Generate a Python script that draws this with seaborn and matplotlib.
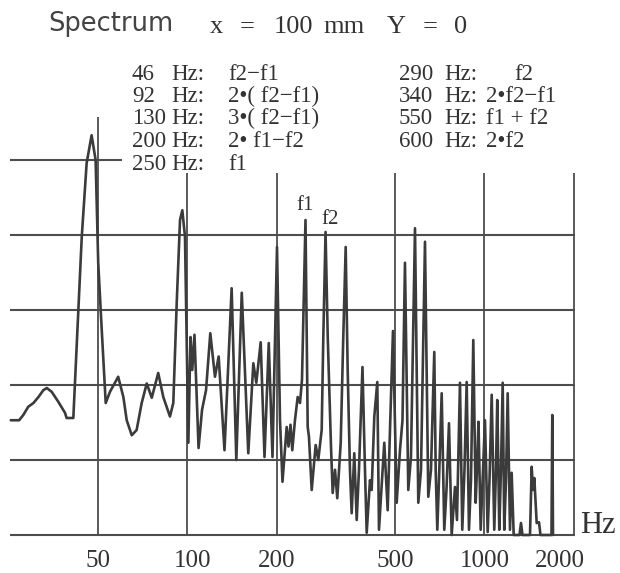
import numpy as np
import pandas as pd
import matplotlib
matplotlib.use("Agg")
import matplotlib.pyplot as plt
import seaborn as sns
from matplotlib.transforms import ScaledTranslation

# ---------------- data ----------------
freq_hz = [
    25.5, 27.2, 28.1, 29.2, 30.4, 31.6, 32.8, 33.7, 35.0, 36.8, 38.8, 39.3, 41.4,
    44.2, 45.9, 47.7, 49.2, 50.2, 51.6, 53.2, 55.0, 58.6, 61.0, 62.6, 65.1, 67.6,
    70.3, 73.1, 76.0, 79.9, 83.1, 87.5, 89.8, 92.2, 94.6, 96.3, 98.3, 99.6, 100.9,
    102.6, 104.0, 105.8, 109.2, 112.2, 115.7, 119.6, 124.0, 127.6, 133.5, 141.1,
    146.3, 152.6, 160.5, 166.9, 170.8, 176.7, 182.0, 188.1, 193.6, 200.5, 205.2,
    209.2, 216.1, 219.2, 222.6, 225.7, 230.4, 235.3, 239.6, 243.3, 250.0, 254.3,
    256.8, 262.3, 270.5, 276.0, 283.4, 287.0, 292.0, 297.0, 304.6, 308.6, 314.2,
    319.8, 328.4, 335.0, 341.3, 346.6, 352.8, 357.5, 364.8, 371.7, 378.3, 388.7,
    396.3, 401.6, 412.0, 417.4, 426.0, 436.0, 441.7, 460.2, 472.5, 481.0, 492.3,
    506.6, 519.7, 529.9, 540.2, 554.2, 565.9, 583.8, 598.9, 611.6, 630.8, 647.1,
    660.8, 677.9, 685.3, 693.9, 703.0, 717.9, 732.4, 745.0, 759.6, 775.6, 795.7,
    808.1, 827.1, 842.0, 856.5, 871.2, 886.9, 900.7, 917.0, 934.0, 943.5, 954.6,
    971.0, 988.4, 1003.8, 1025.1, 1039.6, 1057.5, 1078.8, 1093.1, 1104.2, 1121.4,
    1136.2, 1151.5, 1165.6, 1181.3, 1196.9, 1218.3, 1234.4, 1253.9, 1311.5,
    1326.7, 1342.3, 1422.7, 1441.5, 1456.2, 1471.0, 1498.4, 1525.5, 1543.1,
    1680.4, 1690.9, 1700.2,
]
amplitude = [
    1.53, 1.53, 1.60, 1.71, 1.76, 1.84, 1.93, 1.96, 1.91, 1.78, 1.63, 1.56, 1.56,
    3.98, 4.96, 5.33, 5.00, 3.63, 2.73, 1.76, 1.91, 2.11, 1.84, 1.53, 1.33, 1.40,
    1.76, 2.02, 1.83, 2.16, 1.84, 1.58, 1.76, 3.09, 4.20, 4.33, 3.98, 2.64, 1.23,
    2.64, 2.20, 2.67, 1.16, 1.67, 1.93, 2.69, 2.11, 2.38, 1.13, 3.29,
    1.00, 3.23, 1.09, 2.29, 2.03, 2.57, 1.04, 2.56, 1.04, 3.84, 1.53,
    0.71, 1.44, 1.18, 1.47, 1.13, 1.53, 1.84, 1.76, 2.07, 4.20, 1.44,
    1.31, 0.60, 1.20, 1.00, 1.40, 2.64, 4.04, 2.64, 1.18, 0.56, 0.87,
    0.49, 1.23, 2.64, 3.84, 2.20, 0.87, 0.29, 1.09, 0.20, 0.87, 2.24,
    0.87, 0.03, 0.73, 0.60, 1.58, 2.04, 0.07, 1.23, 0.33, 1.40, 2.72,
    0.43, 1.13, 1.53, 3.63, 0.60, 1.04, 4.09, 0.43, 0.87, 3.91, 0.51,
    0.87, 2.44, 0.87, 0.07, 0.73, 1.89, 0.07, 0.60, 1.49, 0.00, 0.64,
    0.20, 2.03, 0.07, 0.87, 2.04, 0.07, 0.73, 2.60, 0.43, 0.87, 1.51,
    0.07, 0.87, 1.53, 0.04, 0.73, 1.87, 0.07, 0.87, 1.80, 0.07,
    0.87, 2.03, 0.07, 0.73, 1.89, 0.07, 0.83, 0.00, 0.00,
    0.16, 0.00, 0.00, 0.91, 0.60, 0.76, 0.16, 0.17, 0.00,
    0.00, 1.60, 0.00,
]

tick_values = [50, 100, 200, 500, 1000, 2000]
tick_labels = ["50", "100", "200", "500", "1000", "2000"]
level_lines = [0, 1, 2, 3, 4]

legend_left_freqs = ["46", "92", "130", "200", "250"]
legend_left_terms = ["f2−f1", "2•( f2−f1)", "3•( f2−f1)", "2• f1−f2", "f1"]
legend_right_freqs = ["290", "340", "550", "600"]
legend_right_terms = ["f2", "2•f2−f1", "f1 + f2", "2•f2"]

# ---------------- figure ----------------
sns.set_theme(style="white")
plt.rcParams["font.family"] = ["DejaVu Sans"]
SERIF = ["Liberation Serif", "DejaVu Serif"]
INK = "#333333"
GRID = "#4d4d4d"

W, H = 620, 573
fig = plt.figure(figsize=(W / 100, H / 100), dpi=100)
fig.patch.set_facecolor("white")

YMAX = 5.6
ax = fig.add_axes([10 / W, 38 / H, 565 / W, (YMAX * 75) / H])
ax.set_xscale("log")
XMIN, XMAX = 25.35, 2016
ax.set_xlim(XMIN, XMAX)
ax.set_ylim(0, YMAX)
for s in ax.spines.values():
    s.set_visible(False)
ax.set_facecolor("white")

# frame lines
ax.hlines(level_lines, XMIN, XMAX, color=GRID, lw=1.5, zorder=1, clip_on=False)
ax.hlines([5], XMIN, 60.4, color=GRID, lw=1.5, zorder=1, clip_on=False)
ax.vlines([50], 0, 5.57, color=GRID, lw=1.3, zorder=1, clip_on=False)
ax.vlines(tick_values[1:], 0, 4.83, color=GRID, lw=1.3, zorder=1, clip_on=False)

df = pd.DataFrame({"freq": freq_hz, "amp": amplitude})
sns.lineplot(data=df, x="freq", y="amp", sort=False, estimator=None,
             color="#3b3b3b", lw=1.9, ax=ax, zorder=3)
for ln in ax.lines:
    ln.set_clip_on(False)
    ln.set_solid_joinstyle("round")

ax.set_xlabel("")
ax.set_ylabel("")
ax.set_yticks([])
ax.set_xticks(tick_values)
ax.set_xticklabels(tick_labels, fontsize=18, family=SERIF, color=INK)
ax.tick_params(axis="x", length=0, pad=11)
ax.minorticks_off()
shifts = {"100": 5, "2000": -14}
for lab in ax.get_xticklabels():
    dx = shifts.get(lab.get_text(), 0)
    if dx:
        lab.set_transform(lab.get_transform() + ScaledTranslation(dx / 100, 0, fig.dpi_scale_trans))


def px(x, y):
    return x / W, 1 - y / H


# title
fig.text(*px(48, 31), "Spectrum", fontsize=18.5, color="#444444", ha="left", va="baseline")
for xx, s in [(210, "x"), (240, "="), (274, "100"), (323, "mm"), (387, "Y"), (423, "="), (454, "0")]:
    fig.text(*px(xx, 33), s, fontsize=19, family=SERIF, color=INK, ha="left", va="baseline")

# legend of frequency components
row_base = [79.5, 102, 124.5, 147, 169.5]
for i, (fq, term) in enumerate(zip(legend_left_freqs, legend_left_terms)):
    yb = row_base[i]
    fig.text(*px(132, yb), fq, fontsize=16.5, family=SERIF, color=INK, ha="left", va="baseline")
    fig.text(*px(204, yb), "Hz:", fontsize=16.5, family=SERIF, color=INK, ha="right", va="baseline")
    fig.text(*px(228, yb), term, fontsize=16.5, family=SERIF, color=INK, ha="left", va="baseline")
for i, (fq, term) in enumerate(zip(legend_right_freqs, legend_right_terms)):
    yb = row_base[i]
    fig.text(*px(399, yb), fq, fontsize=16.5, family=SERIF, color=INK, ha="left", va="baseline")
    fig.text(*px(444, yb), "Hz:", fontsize=16.5, family=SERIF, color=INK, ha="left", va="baseline")
    fig.text(*px(514 if i == 0 else 486, yb), term, fontsize=16.5, family=SERIF, color=INK,
             ha="left", va="baseline")

# peak labels
fig.text(*px(305, 205), "f1", fontsize=15, family=SERIF, color=INK, ha="center", va="center")
fig.text(*px(330, 220), "f2", fontsize=15, family=SERIF, color=INK, ha="center", va="center")

# axis unit
fig.text(*px(580, 533), "Hz", fontsize=22, family=SERIF, color=INK, ha="left", va="baseline")

fig.savefig("out.png", dpi=100, facecolor="white")
